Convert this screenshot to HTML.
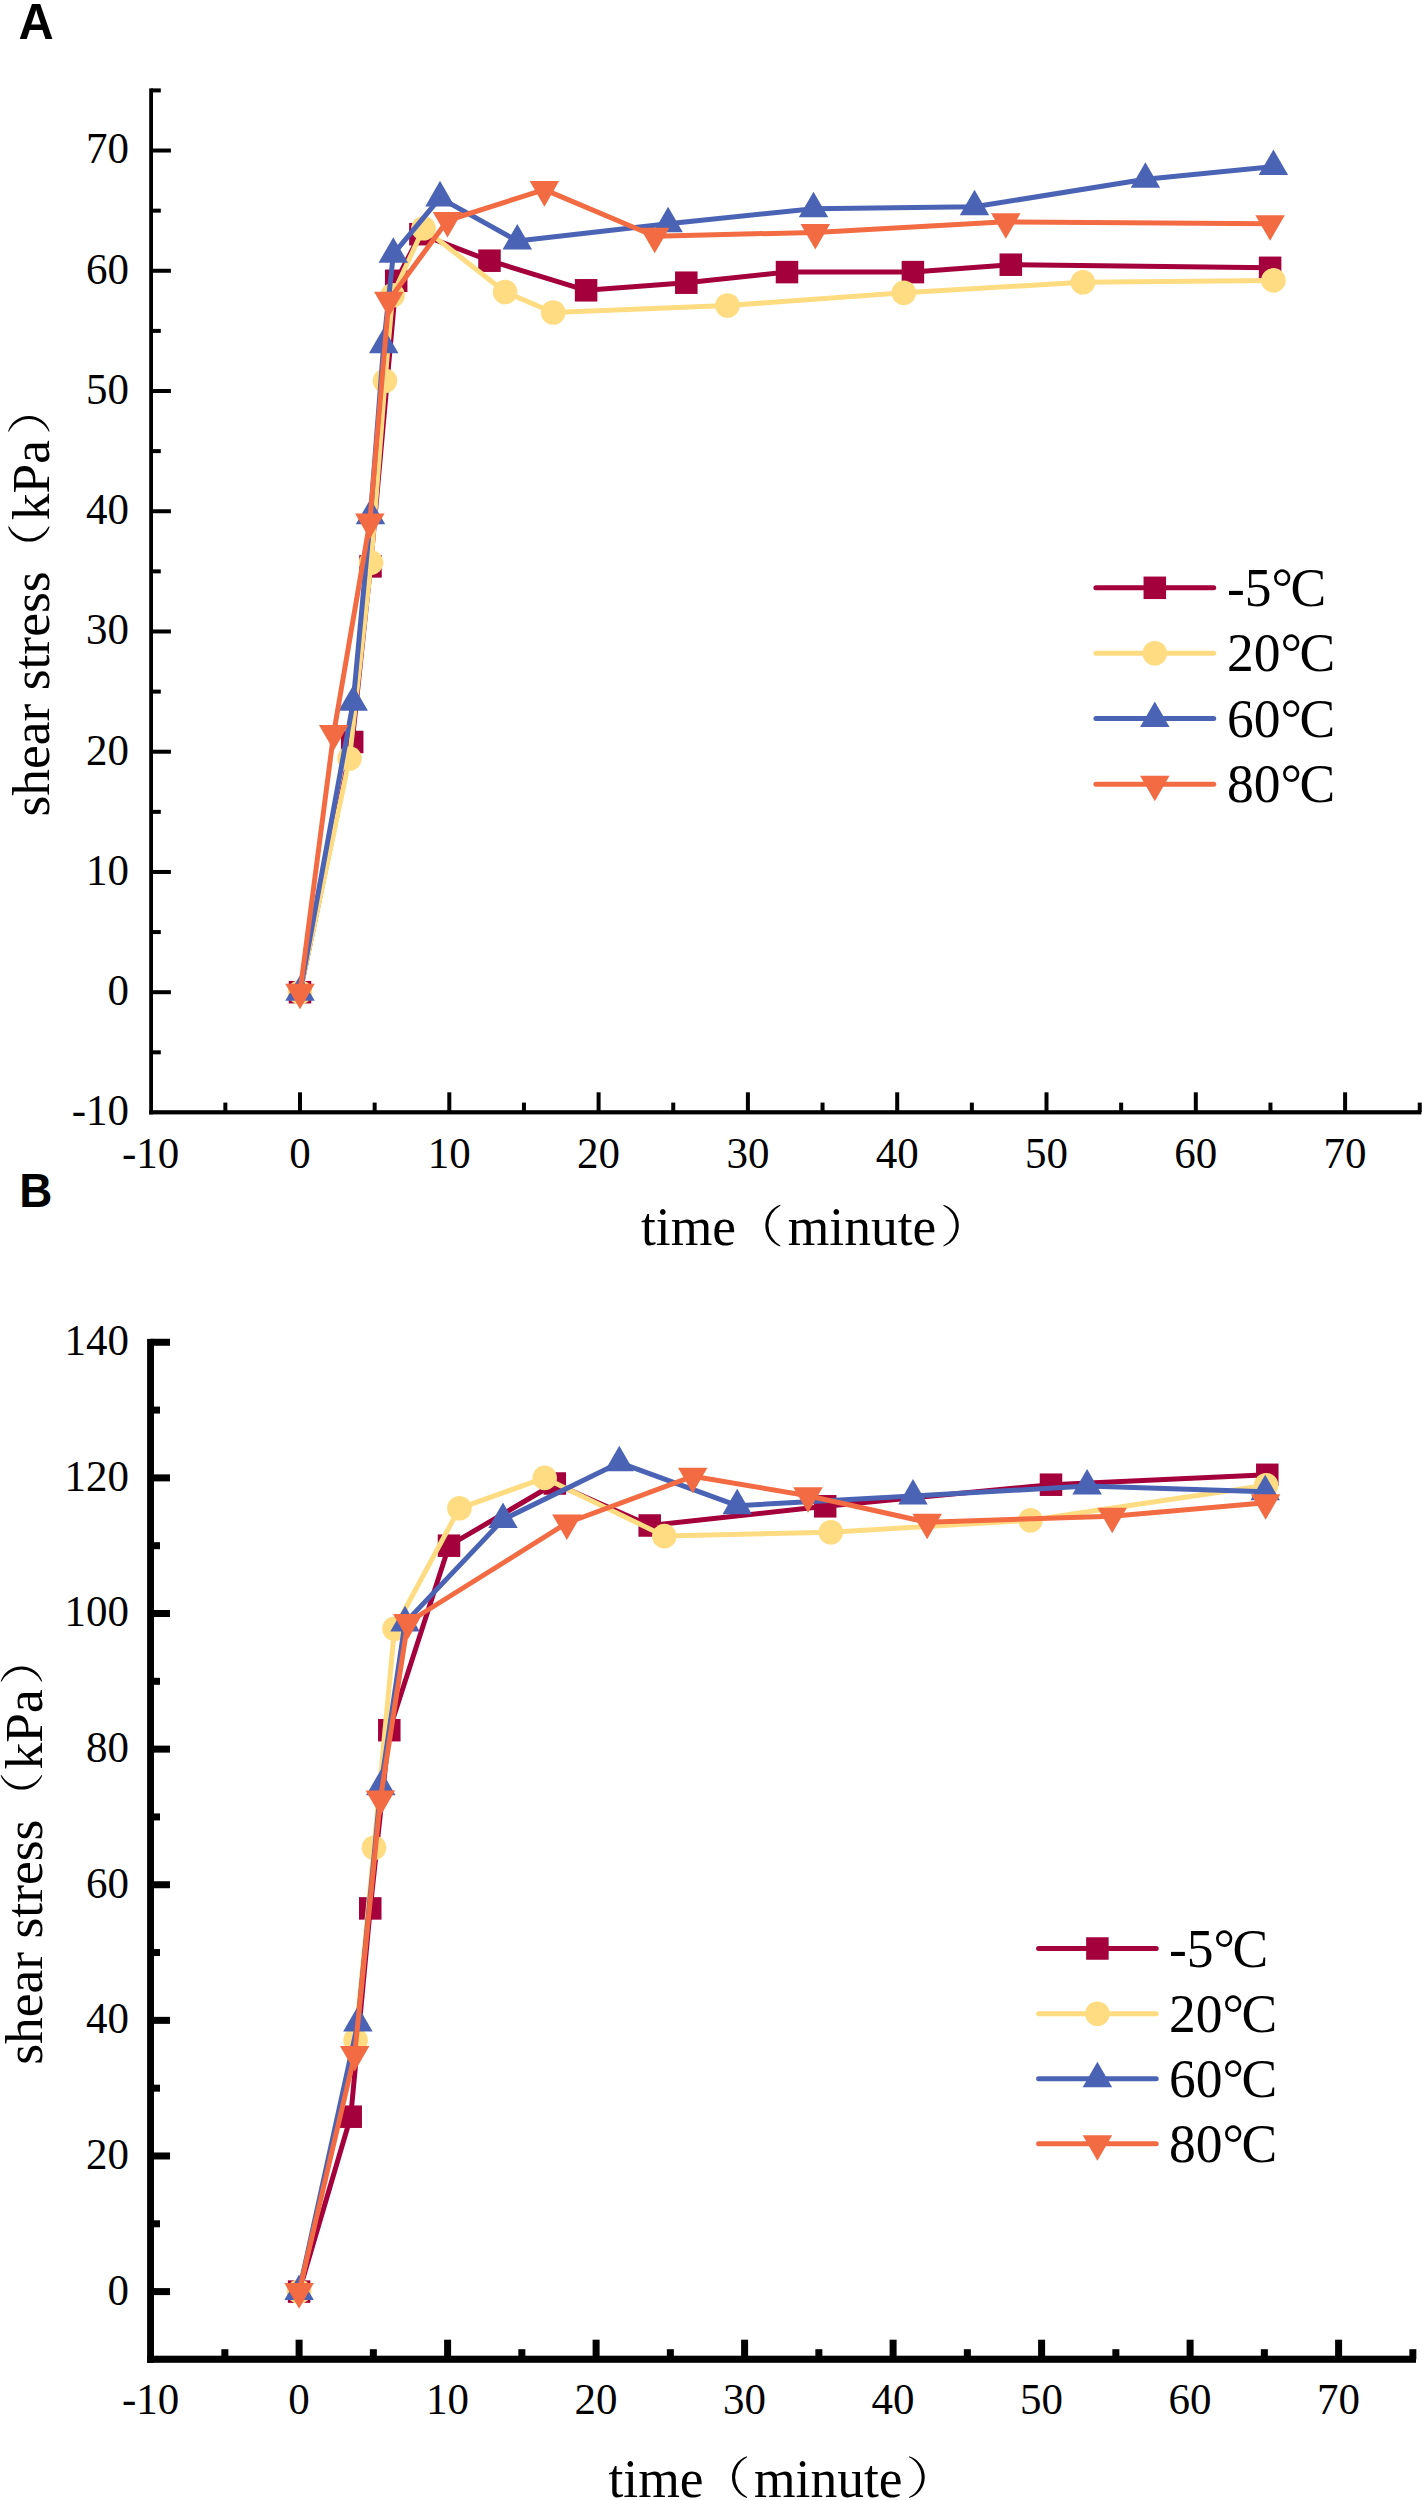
<!DOCTYPE html>
<html><head><meta charset="utf-8"><title>shear stress</title>
<style>html,body{margin:0;padding:0;background:#fff;overflow:hidden;}svg{display:block;}</style>
</head><body>
<svg width="1423" height="2500" viewBox="0 0 1423 2500"><rect width="1423" height="2500" fill="#fff"/><text transform="translate(18.6 38.8) scale(0.985 1.025)" font-family="Liberation Sans" font-weight="bold" font-size="49.5">A</text><text transform="translate(19.3 1207.2) scale(0.955 1.02)" font-family="Liberation Sans" font-weight="bold" font-size="48">B</text><rect x="149.2" y="88.4" width="3.8" height="1026" fill="#000"/><rect x="149.2" y="1110.2" width="1272.1" height="4.2" fill="#000"/><rect x="151.1" y="1050.32" width="9.7" height="4" fill="#000"/><rect x="151.1" y="990.2" width="19.8" height="4" fill="#000"/><rect x="151.1" y="930.08" width="9.7" height="4" fill="#000"/><rect x="151.1" y="869.96" width="19.8" height="4" fill="#000"/><rect x="151.1" y="809.84" width="9.7" height="4" fill="#000"/><rect x="151.1" y="749.72" width="19.8" height="4" fill="#000"/><rect x="151.1" y="689.6" width="9.7" height="4" fill="#000"/><rect x="151.1" y="629.48" width="19.8" height="4" fill="#000"/><rect x="151.1" y="569.36" width="9.7" height="4" fill="#000"/><rect x="151.1" y="509.24" width="19.8" height="4" fill="#000"/><rect x="151.1" y="449.12" width="9.7" height="4" fill="#000"/><rect x="151.1" y="389" width="19.8" height="4" fill="#000"/><rect x="151.1" y="328.88" width="9.7" height="4" fill="#000"/><rect x="151.1" y="268.76" width="19.8" height="4" fill="#000"/><rect x="151.1" y="208.64" width="9.7" height="4" fill="#000"/><rect x="151.1" y="148.52" width="19.8" height="4" fill="#000"/><rect x="151.1" y="88.4" width="9.7" height="4" fill="#000"/><rect x="223.35" y="1102.6" width="4" height="9.7" fill="#000"/><rect x="298" y="1092.3" width="4" height="20" fill="#000"/><rect x="372.65" y="1102.6" width="4" height="9.7" fill="#000"/><rect x="447.3" y="1092.3" width="4" height="20" fill="#000"/><rect x="521.95" y="1102.6" width="4" height="9.7" fill="#000"/><rect x="596.6" y="1092.3" width="4" height="20" fill="#000"/><rect x="671.25" y="1102.6" width="4" height="9.7" fill="#000"/><rect x="745.9" y="1092.3" width="4" height="20" fill="#000"/><rect x="820.55" y="1102.6" width="4" height="9.7" fill="#000"/><rect x="895.2" y="1092.3" width="4" height="20" fill="#000"/><rect x="969.85" y="1102.6" width="4" height="9.7" fill="#000"/><rect x="1044.5" y="1092.3" width="4" height="20" fill="#000"/><rect x="1119.15" y="1102.6" width="4" height="9.7" fill="#000"/><rect x="1193.8" y="1092.3" width="4" height="20" fill="#000"/><rect x="1268.45" y="1102.6" width="4" height="9.7" fill="#000"/><rect x="1343.1" y="1092.3" width="4" height="20" fill="#000"/><rect x="1417.75" y="1102.6" width="4" height="9.7" fill="#000"/><g font-family="Liberation Serif" font-size="43" fill="#000"><text transform="translate(129 1125.24) scale(1 1.055)" text-anchor="end">-10</text><text transform="translate(129 1005) scale(1 1.055)" text-anchor="end">0</text><text transform="translate(129 884.76) scale(1 1.055)" text-anchor="end">10</text><text transform="translate(129 764.52) scale(1 1.055)" text-anchor="end">20</text><text transform="translate(129 644.28) scale(1 1.055)" text-anchor="end">30</text><text transform="translate(129 524.04) scale(1 1.055)" text-anchor="end">40</text><text transform="translate(129 403.8) scale(1 1.055)" text-anchor="end">50</text><text transform="translate(129 283.56) scale(1 1.055)" text-anchor="end">60</text><text transform="translate(129 163.32) scale(1 1.055)" text-anchor="end">70</text><text transform="translate(150.7 1167.7) scale(1 1.055)" text-anchor="middle">-10</text><text transform="translate(300 1167.7) scale(1 1.055)" text-anchor="middle">0</text><text transform="translate(449.3 1167.7) scale(1 1.055)" text-anchor="middle">10</text><text transform="translate(598.6 1167.7) scale(1 1.055)" text-anchor="middle">20</text><text transform="translate(747.9 1167.7) scale(1 1.055)" text-anchor="middle">30</text><text transform="translate(897.2 1167.7) scale(1 1.055)" text-anchor="middle">40</text><text transform="translate(1046.5 1167.7) scale(1 1.055)" text-anchor="middle">50</text><text transform="translate(1195.8 1167.7) scale(1 1.055)" text-anchor="middle">60</text><text transform="translate(1345.1 1167.7) scale(1 1.055)" text-anchor="middle">70</text></g><polyline points="300,992.2 352.2,742 370.5,566.4 396.2,280.8 420.4,234.2 489.5,260.7 586.1,290.3 686.3,282.7 787,272.1 912.9,272.1 1010.8,264.7 1270.1,267.8" fill="none" stroke="#A3003C" stroke-width="5.0" stroke-linejoin="round" stroke-linecap="round"/><rect x="288.75" y="980.95" width="22.5" height="22.5" fill="#A3003C"/><rect x="340.95" y="730.75" width="22.5" height="22.5" fill="#A3003C"/><rect x="359.25" y="555.15" width="22.5" height="22.5" fill="#A3003C"/><rect x="384.95" y="269.55" width="22.5" height="22.5" fill="#A3003C"/><rect x="409.15" y="222.95" width="22.5" height="22.5" fill="#A3003C"/><rect x="478.25" y="249.45" width="22.5" height="22.5" fill="#A3003C"/><rect x="574.85" y="279.05" width="22.5" height="22.5" fill="#A3003C"/><rect x="675.05" y="271.45" width="22.5" height="22.5" fill="#A3003C"/><rect x="775.75" y="260.85" width="22.5" height="22.5" fill="#A3003C"/><rect x="901.65" y="260.85" width="22.5" height="22.5" fill="#A3003C"/><rect x="999.55" y="253.45" width="22.5" height="22.5" fill="#A3003C"/><rect x="1258.85" y="256.55" width="22.5" height="22.5" fill="#A3003C"/><polyline points="300,992.2 349.5,758.5 371.1,562.6 385,380.8 392.6,295.3 423.5,228.2 505.1,292 553.2,312.5 727.5,305.5 903.8,292.8 1082.9,282.2 1273.4,280.4" fill="none" stroke="#FFDC82" stroke-width="5.0" stroke-linejoin="round" stroke-linecap="round"/><circle cx="300" cy="992.2" r="12.3" fill="#FFDC82"/><circle cx="349.5" cy="758.5" r="12.3" fill="#FFDC82"/><circle cx="371.1" cy="562.6" r="12.3" fill="#FFDC82"/><circle cx="385" cy="380.8" r="12.3" fill="#FFDC82"/><circle cx="392.6" cy="295.3" r="12.3" fill="#FFDC82"/><circle cx="423.5" cy="228.2" r="12.3" fill="#FFDC82"/><circle cx="505.1" cy="292" r="12.3" fill="#FFDC82"/><circle cx="553.2" cy="312.5" r="12.3" fill="#FFDC82"/><circle cx="727.5" cy="305.5" r="12.3" fill="#FFDC82"/><circle cx="903.8" cy="292.8" r="12.3" fill="#FFDC82"/><circle cx="1082.9" cy="282.2" r="12.3" fill="#FFDC82"/><circle cx="1273.4" cy="280.4" r="12.3" fill="#FFDC82"/><polyline points="300,992.2 353.2,702.3 370.5,515.8 383.7,344.8 393.3,254.2 440,197.9 517.3,241 668.1,223.7 813.5,208.7 974.5,206.8 1145.4,179.3 1273.4,166.6" fill="none" stroke="#4B63B4" stroke-width="5.0" stroke-linejoin="round" stroke-linecap="round"/><path d="M300 975.17L314.75 1000.72L285.25 1000.72Z" fill="#4B63B4"/><path d="M353.2 685.27L367.95 710.82L338.45 710.82Z" fill="#4B63B4"/><path d="M370.5 498.77L385.25 524.32L355.75 524.32Z" fill="#4B63B4"/><path d="M383.7 327.77L398.45 353.32L368.95 353.32Z" fill="#4B63B4"/><path d="M393.3 237.17L408.05 262.72L378.55 262.72Z" fill="#4B63B4"/><path d="M440 180.87L454.75 206.42L425.25 206.42Z" fill="#4B63B4"/><path d="M517.3 223.97L532.05 249.52L502.55 249.52Z" fill="#4B63B4"/><path d="M668.1 206.67L682.85 232.22L653.35 232.22Z" fill="#4B63B4"/><path d="M813.5 191.67L828.25 217.22L798.75 217.22Z" fill="#4B63B4"/><path d="M974.5 189.77L989.25 215.32L959.75 215.32Z" fill="#4B63B4"/><path d="M1145.4 162.27L1160.15 187.82L1130.65 187.82Z" fill="#4B63B4"/><path d="M1273.4 149.57L1288.15 175.12L1258.65 175.12Z" fill="#4B63B4"/><polyline points="300,992.2 333.7,733.4 369.8,522 388.8,300.3 447.5,220.5 544.4,189.6 654.7,236.2 815.3,232.4 1005.8,221.8 1270.1,223.8" fill="none" stroke="#F26B43" stroke-width="5.0" stroke-linejoin="round" stroke-linecap="round"/><path d="M300 1009.23L314.75 983.68L285.25 983.68Z" fill="#F26B43"/><path d="M333.7 750.43L348.45 724.88L318.95 724.88Z" fill="#F26B43"/><path d="M369.8 539.03L384.55 513.48L355.05 513.48Z" fill="#F26B43"/><path d="M388.8 317.33L403.55 291.78L374.05 291.78Z" fill="#F26B43"/><path d="M447.5 237.53L462.25 211.98L432.75 211.98Z" fill="#F26B43"/><path d="M544.4 206.63L559.15 181.08L529.65 181.08Z" fill="#F26B43"/><path d="M654.7 253.23L669.45 227.68L639.95 227.68Z" fill="#F26B43"/><path d="M815.3 249.43L830.05 223.88L800.55 223.88Z" fill="#F26B43"/><path d="M1005.8 238.83L1020.55 213.28L991.05 213.28Z" fill="#F26B43"/><path d="M1270.1 240.83L1284.85 215.28L1255.35 215.28Z" fill="#F26B43"/><line x1="1095.9" y1="587.8" x2="1213.7" y2="587.8" stroke="#A3003C" stroke-width="5.0" stroke-linecap="round"/><rect x="1143.55" y="576.55" width="22.5" height="22.5" fill="#A3003C"/><text transform="translate(1227 605.8) scale(1 1.03)" font-family="Liberation Serif" font-size="53.5">-5°<tspan dx="-2.5">C</tspan></text><line x1="1095.9" y1="653.3" x2="1213.7" y2="653.3" stroke="#FFDC82" stroke-width="5.0" stroke-linecap="round"/><circle cx="1154.8" cy="653.3" r="12.3" fill="#FFDC82"/><text transform="translate(1227 671.3) scale(1 1.03)" font-family="Liberation Serif" font-size="53.5">20°<tspan dx="-2.5">C</tspan></text><line x1="1095.9" y1="718.6" x2="1213.7" y2="718.6" stroke="#4B63B4" stroke-width="5.0" stroke-linecap="round"/><path d="M1154.8 701.57L1169.55 727.12L1140.05 727.12Z" fill="#4B63B4"/><text transform="translate(1227 736.6) scale(1 1.03)" font-family="Liberation Serif" font-size="53.5">60°<tspan dx="-2.5">C</tspan></text><line x1="1095.9" y1="784.2" x2="1213.7" y2="784.2" stroke="#F26B43" stroke-width="5.0" stroke-linecap="round"/><path d="M1154.8 801.23L1169.55 775.68L1140.05 775.68Z" fill="#F26B43"/><text transform="translate(1227 802.2) scale(1 1.03)" font-family="Liberation Serif" font-size="53.5">80°<tspan dx="-2.5">C</tspan></text><g transform="translate(49.3 816.6) rotate(-90)" font-family="Liberation Serif" font-size="53.5"><text x="0" y="0">shear stress</text><path d="M290.2 -41.3A21.9 21.9 0 0 0 290.2 0.4L290.2 -0.6A22.33 22.33 0 0 1 290.2 -40.3Z"/><text x="296.3" y="0">kPa</text><path d="M385 -41.3A21.73 21.73 0 0 1 385 0.4L385 -0.6A22.01 22.01 0 0 0 385 -40.3Z"/></g><g font-family="Liberation Serif" font-size="53.5"><text transform="translate(641 1245.2) scale(1 1.03)">time</text><g transform="translate(0 1245.2)"><path d="M780.3 -40.5A21.99 21.99 0 0 0 780.3 1.2L780.3 0.2A22.51 22.51 0 0 1 780.3 -39.5Z"/><path d="M943.4 -40.5A21.81 21.81 0 0 1 943.4 1.2L943.4 0.2A22.17 22.17 0 0 0 943.4 -39.5Z"/></g><text transform="translate(787.7 1245.2) scale(1 1.03)">minute</text></g><rect x="147.1" y="1338.9" width="6.9" height="1023.9" fill="#000"/><rect x="147.1" y="2355.7" width="1268.9" height="7.1" fill="#000"/><rect x="150.55" y="2288.1" width="19.45" height="7" fill="#000"/><rect x="150.55" y="2220.29" width="9.45" height="7" fill="#000"/><rect x="150.55" y="2152.48" width="19.45" height="7" fill="#000"/><rect x="150.55" y="2084.67" width="9.45" height="7" fill="#000"/><rect x="150.55" y="2016.86" width="19.45" height="7" fill="#000"/><rect x="150.55" y="1949.05" width="9.45" height="7" fill="#000"/><rect x="150.55" y="1881.24" width="19.45" height="7" fill="#000"/><rect x="150.55" y="1813.43" width="9.45" height="7" fill="#000"/><rect x="150.55" y="1745.62" width="19.45" height="7" fill="#000"/><rect x="150.55" y="1677.81" width="9.45" height="7" fill="#000"/><rect x="150.55" y="1610" width="19.45" height="7" fill="#000"/><rect x="150.55" y="1542.19" width="9.45" height="7" fill="#000"/><rect x="150.55" y="1474.38" width="19.45" height="7" fill="#000"/><rect x="150.55" y="1406.57" width="9.45" height="7" fill="#000"/><rect x="150.55" y="1338.76" width="19.45" height="7" fill="#000"/><rect x="221.35" y="2349.2" width="7" height="10.05" fill="#000"/><rect x="295.6" y="2339.7" width="7" height="19.55" fill="#000"/><rect x="369.85" y="2349.2" width="7" height="10.05" fill="#000"/><rect x="444.1" y="2339.7" width="7" height="19.55" fill="#000"/><rect x="518.35" y="2349.2" width="7" height="10.05" fill="#000"/><rect x="592.6" y="2339.7" width="7" height="19.55" fill="#000"/><rect x="666.85" y="2349.2" width="7" height="10.05" fill="#000"/><rect x="741.1" y="2339.7" width="7" height="19.55" fill="#000"/><rect x="815.35" y="2349.2" width="7" height="10.05" fill="#000"/><rect x="889.6" y="2339.7" width="7" height="19.55" fill="#000"/><rect x="963.85" y="2349.2" width="7" height="10.05" fill="#000"/><rect x="1038.1" y="2339.7" width="7" height="19.55" fill="#000"/><rect x="1112.35" y="2349.2" width="7" height="10.05" fill="#000"/><rect x="1186.6" y="2339.7" width="7" height="19.55" fill="#000"/><rect x="1260.85" y="2349.2" width="7" height="10.05" fill="#000"/><rect x="1335.1" y="2339.7" width="7" height="19.55" fill="#000"/><rect x="1409.35" y="2349.2" width="7" height="10.05" fill="#000"/><g font-family="Liberation Serif" font-size="43" fill="#000"><text transform="translate(129 2304.5) scale(1 1.055)" text-anchor="end">0</text><text transform="translate(129 2168.88) scale(1 1.055)" text-anchor="end">20</text><text transform="translate(129 2033.26) scale(1 1.055)" text-anchor="end">40</text><text transform="translate(129 1897.64) scale(1 1.055)" text-anchor="end">60</text><text transform="translate(129 1762.02) scale(1 1.055)" text-anchor="end">80</text><text transform="translate(129 1626.4) scale(1 1.055)" text-anchor="end">100</text><text transform="translate(129 1490.78) scale(1 1.055)" text-anchor="end">120</text><text transform="translate(129 1355.16) scale(1 1.055)" text-anchor="end">140</text><text transform="translate(150.6 2414.4) scale(1 1.055)" text-anchor="middle">-10</text><text transform="translate(299.1 2414.4) scale(1 1.055)" text-anchor="middle">0</text><text transform="translate(447.6 2414.4) scale(1 1.055)" text-anchor="middle">10</text><text transform="translate(596.1 2414.4) scale(1 1.055)" text-anchor="middle">20</text><text transform="translate(744.6 2414.4) scale(1 1.055)" text-anchor="middle">30</text><text transform="translate(893.1 2414.4) scale(1 1.055)" text-anchor="middle">40</text><text transform="translate(1041.6 2414.4) scale(1 1.055)" text-anchor="middle">50</text><text transform="translate(1190.1 2414.4) scale(1 1.055)" text-anchor="middle">60</text><text transform="translate(1338.6 2414.4) scale(1 1.055)" text-anchor="middle">70</text></g><polyline points="299.1,2291.6 350.7,2116.7 370.25,1908.4 389.3,1730.2 449,1545.7 554.8,1483.5 649.7,1525.5 825.2,1506.3 1051,1484.7 1267.3,1474.8" fill="none" stroke="#A3003C" stroke-width="5.0" stroke-linejoin="round" stroke-linecap="round"/><rect x="287.85" y="2280.35" width="22.5" height="22.5" fill="#A3003C"/><rect x="339.45" y="2105.45" width="22.5" height="22.5" fill="#A3003C"/><rect x="359" y="1897.15" width="22.5" height="22.5" fill="#A3003C"/><rect x="378.05" y="1718.95" width="22.5" height="22.5" fill="#A3003C"/><rect x="437.75" y="1534.45" width="22.5" height="22.5" fill="#A3003C"/><rect x="543.55" y="1472.25" width="22.5" height="22.5" fill="#A3003C"/><rect x="638.45" y="1514.25" width="22.5" height="22.5" fill="#A3003C"/><rect x="813.95" y="1495.05" width="22.5" height="22.5" fill="#A3003C"/><rect x="1039.75" y="1473.45" width="22.5" height="22.5" fill="#A3003C"/><rect x="1256.05" y="1463.55" width="22.5" height="22.5" fill="#A3003C"/><polyline points="299.1,2291.6 355.6,2040.3 374,1847.7 394.5,1628.8 459.4,1508.3 544.7,1477.9 664.3,1536.1 830.8,1532.3 1030.5,1520.2 1266.1,1485.3" fill="none" stroke="#FFDC82" stroke-width="5.0" stroke-linejoin="round" stroke-linecap="round"/><circle cx="299.1" cy="2291.6" r="12.3" fill="#FFDC82"/><circle cx="355.6" cy="2040.3" r="12.3" fill="#FFDC82"/><circle cx="374" cy="1847.7" r="12.3" fill="#FFDC82"/><circle cx="394.5" cy="1628.8" r="12.3" fill="#FFDC82"/><circle cx="459.4" cy="1508.3" r="12.3" fill="#FFDC82"/><circle cx="544.7" cy="1477.9" r="12.3" fill="#FFDC82"/><circle cx="664.3" cy="1536.1" r="12.3" fill="#FFDC82"/><circle cx="830.8" cy="1532.3" r="12.3" fill="#FFDC82"/><circle cx="1030.5" cy="1520.2" r="12.3" fill="#FFDC82"/><circle cx="1266.1" cy="1485.3" r="12.3" fill="#FFDC82"/><polyline points="299.1,2291.6 357.9,2023.1 380.8,1786.8 405,1622.9 503,1519.6 619.3,1462.7 737.2,1505.7 913,1496.1 1087.1,1486.1 1265.2,1491.7" fill="none" stroke="#4B63B4" stroke-width="5.0" stroke-linejoin="round" stroke-linecap="round"/><path d="M299.1 2274.57L313.85 2300.12L284.35 2300.12Z" fill="#4B63B4"/><path d="M357.9 2006.07L372.65 2031.62L343.15 2031.62Z" fill="#4B63B4"/><path d="M380.8 1769.77L395.55 1795.32L366.05 1795.32Z" fill="#4B63B4"/><path d="M405 1605.87L419.75 1631.42L390.25 1631.42Z" fill="#4B63B4"/><path d="M503 1502.57L517.75 1528.12L488.25 1528.12Z" fill="#4B63B4"/><path d="M619.3 1445.67L634.05 1471.22L604.55 1471.22Z" fill="#4B63B4"/><path d="M737.2 1488.67L751.95 1514.22L722.45 1514.22Z" fill="#4B63B4"/><path d="M913 1479.07L927.75 1504.62L898.25 1504.62Z" fill="#4B63B4"/><path d="M1087.1 1469.07L1101.85 1494.62L1072.35 1494.62Z" fill="#4B63B4"/><path d="M1265.2 1474.67L1279.95 1500.22L1250.45 1500.22Z" fill="#4B63B4"/><polyline points="299.1,2291.6 354.7,2054.5 380.4,1799 407.8,1622.5 566.9,1523 692.7,1476.3 808,1495.7 927.2,1522.3 1112.2,1516.2 1265.6,1502.8" fill="none" stroke="#F26B43" stroke-width="5.0" stroke-linejoin="round" stroke-linecap="round"/><path d="M299.1 2308.63L313.85 2283.08L284.35 2283.08Z" fill="#F26B43"/><path d="M354.7 2071.53L369.45 2045.98L339.95 2045.98Z" fill="#F26B43"/><path d="M380.4 1816.03L395.15 1790.48L365.65 1790.48Z" fill="#F26B43"/><path d="M407.8 1639.53L422.55 1613.98L393.05 1613.98Z" fill="#F26B43"/><path d="M566.9 1540.03L581.65 1514.48L552.15 1514.48Z" fill="#F26B43"/><path d="M692.7 1493.33L707.45 1467.78L677.95 1467.78Z" fill="#F26B43"/><path d="M808 1512.73L822.75 1487.18L793.25 1487.18Z" fill="#F26B43"/><path d="M927.2 1539.33L941.95 1513.78L912.45 1513.78Z" fill="#F26B43"/><path d="M1112.2 1533.23L1126.95 1507.68L1097.45 1507.68Z" fill="#F26B43"/><path d="M1265.6 1519.83L1280.35 1494.28L1250.85 1494.28Z" fill="#F26B43"/><line x1="1038.6" y1="1948.5" x2="1156.2" y2="1948.5" stroke="#A3003C" stroke-width="5.0" stroke-linecap="round"/><rect x="1086.15" y="1937.25" width="22.5" height="22.5" fill="#A3003C"/><text transform="translate(1169 1966.8) scale(1 1.03)" font-family="Liberation Serif" font-size="53.5">-5°<tspan dx="-2.5">C</tspan></text><line x1="1038.6" y1="2013.8" x2="1156.2" y2="2013.8" stroke="#FFDC82" stroke-width="5.0" stroke-linecap="round"/><circle cx="1097.4" cy="2013.8" r="12.3" fill="#FFDC82"/><text transform="translate(1169 2032.1) scale(1 1.03)" font-family="Liberation Serif" font-size="53.5">20°<tspan dx="-2.5">C</tspan></text><line x1="1038.6" y1="2078.7" x2="1156.2" y2="2078.7" stroke="#4B63B4" stroke-width="5.0" stroke-linecap="round"/><path d="M1097.4 2061.67L1112.15 2087.22L1082.65 2087.22Z" fill="#4B63B4"/><text transform="translate(1169 2097) scale(1 1.03)" font-family="Liberation Serif" font-size="53.5">60°<tspan dx="-2.5">C</tspan></text><line x1="1038.6" y1="2143.7" x2="1156.2" y2="2143.7" stroke="#F26B43" stroke-width="5.0" stroke-linecap="round"/><path d="M1097.4 2160.73L1112.15 2135.18L1082.65 2135.18Z" fill="#F26B43"/><text transform="translate(1169 2162) scale(1 1.03)" font-family="Liberation Serif" font-size="53.5">80°<tspan dx="-2.5">C</tspan></text><g transform="translate(41.9 2064.8) rotate(-90)" font-family="Liberation Serif" font-size="53.5"><text x="0" y="0">shear stress</text><path d="M289.6 -41.3A22.29 22.29 0 0 0 289.6 0.4L289.6 -0.6A23.08 23.08 0 0 1 289.6 -40.3Z"/><text x="295.2" y="0">kPa</text><path d="M383.2 -41.3A21.9 21.9 0 0 1 383.2 0.4L383.2 -0.6A22.33 22.33 0 0 0 383.2 -40.3Z"/></g><g font-family="Liberation Serif" font-size="53.5"><text transform="translate(608.5 2496.8) scale(1 1.03)">time</text><g transform="translate(0 2496.8)"><path d="M747 -40.5A21.99 21.99 0 0 0 747 1.2L747 0.2A22.51 22.51 0 0 1 747 -39.5Z"/><path d="M909.1 -40.5A21.73 21.73 0 0 1 909.1 1.2L909.1 0.2A22.01 22.01 0 0 0 909.1 -39.5Z"/></g><text transform="translate(754 2496.8) scale(1 1.03)">minute</text></g></svg>
</body></html>
